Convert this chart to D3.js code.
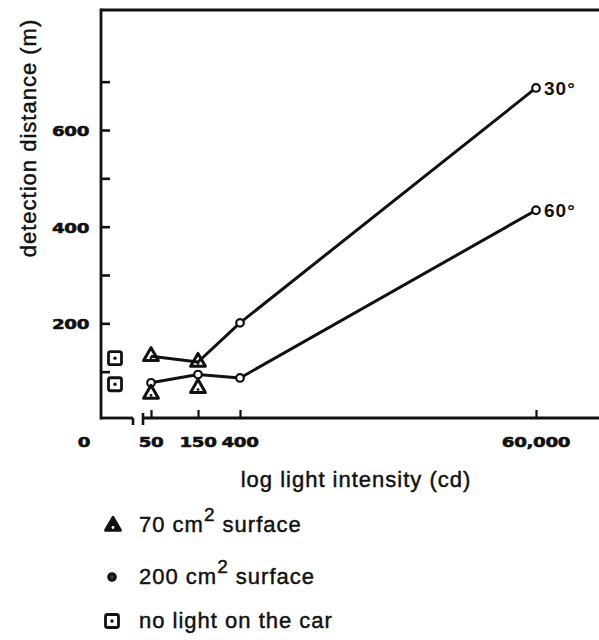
<!DOCTYPE html>
<html>
<head>
<meta charset="utf-8">
<script src="https://cdn.jsdelivr.net/npm/d3@7"></script>
<style>
  html, body { margin: 0; padding: 0; background: #fff; }
  svg { display: block; }
</style>
</head>
<body>
<svg id="chart" width="599" height="640"></svg>
<script>
// ---- data ----
const intensities = [50, 150, 400, 60000];
const xTickLabels = ["50", "150", "400", "60,000"];
const deg30 = [132, 120, 201, 687];          // 30° line
const deg60 = [77, 94, 87, 434];             // 60° line
const circle30Idx = [2, 3];                  // circles visible on the 30° line
const circle60Idx = [0, 1, 2, 3];
const triX = [50, 150, 50, 150];             // 70 cm² surface
const triY = [132, 120, 54, 66];
const noLightY = [128, 74];                  // no light on the car
const yTicks = [100, 200, 300, 400, 500, 600, 700];
const yLabels = [200, 400, 600];
const lineLabels = ["30°", "60°"];
const legendItems = ["tri", "circle", "square"];

// ---- setup ----
const svg = d3.select("#chart");
const ink = "#111";
const x = d3.scaleLog().domain(intensities).range([151, 198, 240, 536]);
const xLeft = d3.scaleOrdinal().domain(["0", "none"]).range([84, 115]);
const y = d3.scaleLinear().domain([0, 600]).range([420, 130]);
const frameTop = 10, axisY = 418, axisX = 101;

// frame: top line, y axis, broken x axis
svg.append("line").attr("x1", axisX).attr("x2", 599).attr("y1", frameTop).attr("y2", frameTop)
  .attr("stroke", ink).attr("stroke-width", 2.8);
svg.append("line").attr("x1", axisX).attr("x2", axisX).attr("y1", frameTop - 1.4).attr("y2", axisY + 1.4)
  .attr("stroke", ink).attr("stroke-width", 2.8);
svg.append("line").attr("x1", axisX).attr("x2", 133).attr("y1", axisY).attr("y2", axisY)
  .attr("stroke", ink).attr("stroke-width", 2.8);
svg.append("line").attr("x1", 133).attr("x2", 133).attr("y1", axisY).attr("y2", axisY + 7)
  .attr("stroke", ink).attr("stroke-width", 2.6);
svg.append("line").attr("x1", 143).attr("x2", 143).attr("y1", axisY - 5).attr("y2", axisY + 7)
  .attr("stroke", ink).attr("stroke-width", 2.6);
svg.append("line").attr("x1", 143).attr("x2", 599).attr("y1", axisY).attr("y2", axisY)
  .attr("stroke", ink).attr("stroke-width", 2.8);

// y axis ticks (inward)
const yAxis = svg.append("g").attr("transform", `translate(${axisX},0)`)
  .call(d3.axisRight(y).tickValues(yTicks).tickSize(9).tickFormat(""));
yAxis.select(".domain").remove();
yAxis.selectAll(".tick line").attr("stroke", ink).attr("stroke-width", 2.6);

// x axis ticks (inward)
const xAxis = svg.append("g").attr("transform", `translate(0,${axisY})`)
  .call(d3.axisBottom(x).tickValues(intensities).tickSize(-8).tickFormat(""));
xAxis.select(".domain").remove();
xAxis.selectAll(".tick line").attr("stroke", ink).attr("stroke-width", 2.2);

// tick labels
const tickFont = "'DejaVu Sans', sans-serif";
function tickText(sel) {
  sel.attr("font-family", tickFont).attr("font-weight", "bold").attr("font-size", 15.5)
    .attr("fill", ink).attr("stroke", ink).attr("stroke-width", 0.6).attr("letter-spacing", -0.3);
}
svg.selectAll("text.ylab").data(yLabels).join("text")
  .attr("transform", d => `translate(89,${y(d) + 6}) scale(1.18,0.92)`)
  .attr("text-anchor", "end").call(tickText).text(d => d);
svg.selectAll("text.xlab").data(intensities).join("text")
  .attr("transform", d => `translate(${x(d)},447) scale(1.18,0.92)`)
  .attr("text-anchor", "middle").call(tickText).text((d, i) => xTickLabels[i]);
svg.append("text")
  .attr("transform", `translate(${xLeft("0")},447) scale(1.18,0.92)`)
  .attr("text-anchor", "middle").call(tickText).text("0");

// axis titles
const labFont = "'Liberation Sans', Arial, sans-serif";
function labText(sel, size) {
  sel.attr("font-family", labFont).attr("font-size", size).attr("letter-spacing", 1)
    .attr("fill", ink).attr("stroke", ink).attr("stroke-width", 0.45);
}
svg.append("text")
  .attr("transform", "translate(36,138) rotate(-90)")
  .attr("text-anchor", "middle").call(labText, 22).text("detection distance (m)");
svg.append("text")
  .attr("x", 356).attr("y", 487)
  .attr("text-anchor", "middle").call(labText, 22).text("log light intensity (cd)");

// lines
const line = d3.line().x(d => x(d[0])).y(d => y(d[1]));
[deg30, deg60].forEach(series => {
  svg.append("path")
    .attr("d", line(intensities.map((v, i) => [v, series[i]])))
    .attr("fill", "none").attr("stroke", ink).attr("stroke-width", 3)
    .attr("stroke-linejoin", "round");
});

// markers
const triPath = d3.symbol().type(d3.symbolTriangle).size(95);
function drawTri(g, cx, cy, filled) {
  g.append("path").attr("d", triPath()).attr("transform", `translate(${cx},${cy})`)
    .attr("fill", filled ? ink : "none").attr("stroke", ink).attr("stroke-width", 3)
    .attr("stroke-linejoin", "round");
  g.append("circle").attr("cx", cx).attr("cy", cy + 1.5).attr("r", 1.4).attr("fill", filled ? "#fff" : ink);
}
function drawCircle(g, cx, cy) {
  g.append("circle").attr("cx", cx).attr("cy", cy).attr("r", 3.8)
    .attr("fill", "#fff").attr("stroke", ink).attr("stroke-width", 2.2);
}
function drawSquare(g, cx, cy) {
  g.append("rect").attr("x", cx - 6.5).attr("y", cy - 6.5).attr("width", 13).attr("height", 13)
    .attr("rx", 2).attr("fill", "#fff").attr("stroke", ink).attr("stroke-width", 2.8);
  g.append("circle").attr("cx", cx).attr("cy", cy).attr("r", 1.7).attr("fill", ink);
}
const marks = svg.append("g");
circle30Idx.forEach(i => drawCircle(marks, x(intensities[i]), y(deg30[i])));
circle60Idx.forEach(i => drawCircle(marks, x(intensities[i]), y(deg60[i])));
triX.forEach((v, i) => drawTri(marks, x(v), y(triY[i]), false));
noLightY.forEach(v => drawSquare(marks, xLeft("none"), y(v)));

// line end labels
svg.selectAll("text.endlab").data(lineLabels).join("text")
  .attr("x", (d, i) => x(intensities[3]) + 8)
  .attr("y", (d, i) => y([deg30, deg60][i][3]) + 7)
  .call(labText, 19).attr("font-weight", "bold").attr("stroke-width", 0)
  .text(d => d);

// legend
const legendText = [
  ["70 cm", "2", " surface"],
  ["200 cm", "2", " surface"],
  ["no light on the car"]
];
const legendY = [525, 577, 621];
const leg = svg.append("g");
legendItems.forEach((type, i) => {
  const cy = legendY[i];
  if (type === "tri") drawTri(leg, 113, cy + 1, true);
  else if (type === "circle") {
    leg.append("circle").attr("cx", 112).attr("cy", cy).attr("r", 3.3)
      .attr("fill", "#444").attr("stroke", ink).attr("stroke-width", 3);
  } else drawSquare(leg, 112, cy);
  const t = leg.append("text").attr("x", 139).attr("y", cy + 7).call(labText, 22);
  const parts = legendText[i];
  t.append("tspan").text(parts[0]);
  if (parts.length > 1) {
    t.append("tspan").attr("dy", -11).attr("font-size", 19).text(parts[1]);
    t.append("tspan").attr("dy", 11).text(parts[2]);
  }
});
</script>
</body>
</html>
